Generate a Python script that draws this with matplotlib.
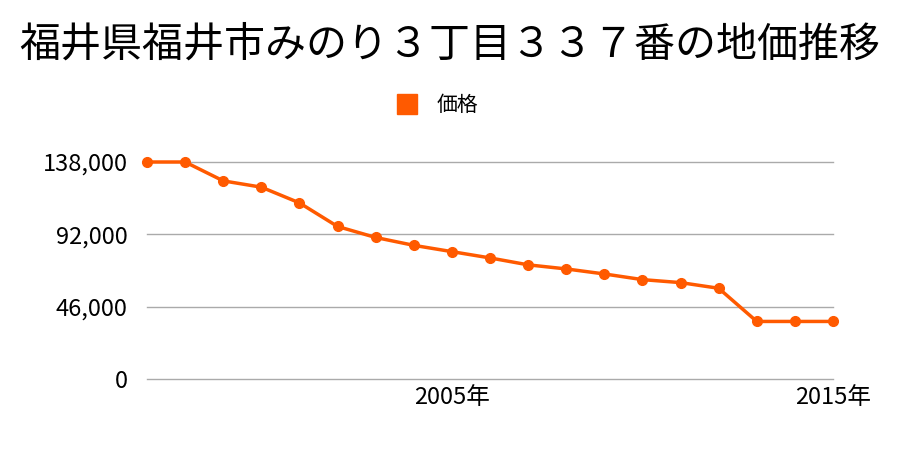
import numpy as np
import matplotlib.pyplot as plt

plt.rcParams['font.family'] = ['Noto Sans CJK JP', 'DejaVu Sans']

# land price by year (yen/m2)
years = list(range(1997, 2016))
prices = [138000, 138000, 126000, 122000, 112000, 97000, 90000, 85000, 81000,
          77000, 72600, 70000, 66800, 63200, 61300, 57700, 36600, 36600, 36600]
yticks = [0, 46000, 92000, 138000]
xticks = [2005, 2015]

title = "福井県福井市みのり３丁目３３７番の地価推移"
color = "#ff5a00"

fig = plt.figure(figsize=(9, 4.5), dpi=100)
ax = fig.add_axes([147/900, 1-379/450, (833-147)/900, (379-162)/450])

ax.plot(years, prices, color=color, lw=2.5, marker='o', markersize=7,
        clip_on=False, zorder=3, label='価格')

ax.set_xlim(1997, 2015)
ax.set_ylim(0, 138000)
ax.set_yticks(yticks)
ax.set_yticklabels([f"{v:,}" for v in yticks])
ax.set_xticks(xticks)
ax.set_xticklabels([f"{x}年" for x in xticks])
ax.grid(axis='y', color='#aaaaaa', lw=1)
for gl in ax.get_ygridlines():
    gl.set_clip_on(False)
ax.set_axisbelow(True)
for s in ax.spines.values():
    s.set_visible(False)
ax.tick_params(length=0, labelsize=17, pad=14)
ax.tick_params(axis='x', labelsize=17, pad=5)

fig.text(0.5, 0.9, title, ha='center', va='center', fontsize=29.5)
leg = fig.legend(handles=[plt.Line2D([], [], color=color, marker='s', ls='',
                                     markersize=15)],
                 labels=['価格'], loc='center', bbox_to_anchor=(0.48, 1-105/450),
                 frameon=False, fontsize=15, handletextpad=0.4)

fig.savefig('out.png')
